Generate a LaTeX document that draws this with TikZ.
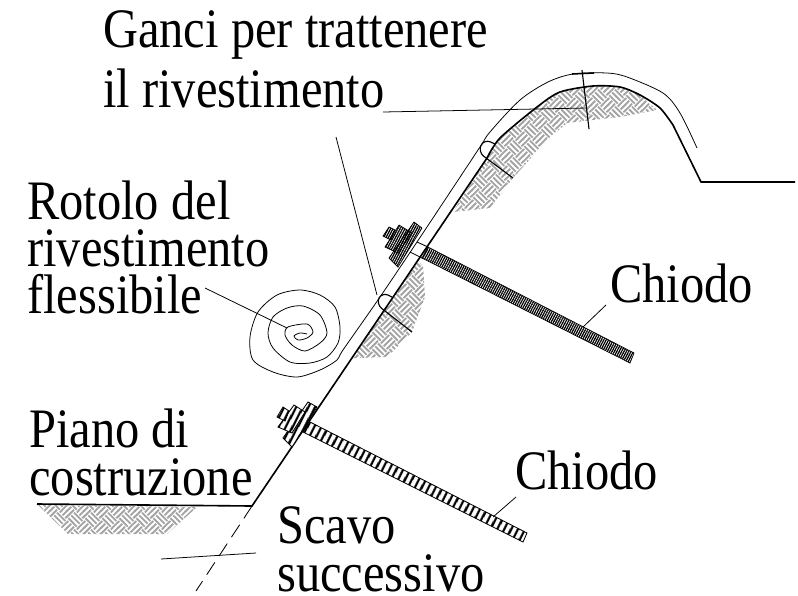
\documentclass[tikz,border=0pt]{standalone}
\usepackage{fontspec}
\setmainfont{Liberation Serif}
\newfontfamily\labelfont[FakeStretch=0.87]{Liberation Serif}
\usetikzlibrary{patterns}
\usetikzlibrary{patterns.meta}
\pgfdeclarepatternformonly{basket}{\pgfpointorigin}{\pgfqpoint{12pt}{12pt}}{\pgfqpoint{12pt}{12pt}}{
    \pgfsetlinewidth{1.3pt}
    \foreach \k in {1,3,5}{
        \foreach \cx/\cy in {0/0,12/0,0/12,12/12}{
            \pgfpathmoveto{\pgfpoint{\cx pt-6pt+\k pt}{\cy pt-\k pt}}
            \pgfpathlineto{\pgfpoint{\cx pt+\k pt}{\cy pt+6pt-\k pt}}
        }
        \pgfpathmoveto{\pgfpoint{12pt-\k pt}{6pt-\k pt}}
        \pgfpathlineto{\pgfpoint{6pt-\k pt}{12pt-\k pt}}
    }
    \pgfusepath{stroke}
}
\tikzset{
    soil/.style={pattern=basket,pattern color=black!36},
    thread dark/.style={draw=black,line width=.5pt,pattern={Lines[angle=62,distance=1.5pt,line width=.9pt]}},
    thread light/.style={draw=black,line width=.6pt,fill=white,postaction={pattern={Lines[angle=62,distance=4pt,line width=1.7pt]}}},
    ground/.style={line width=1.15pt},
    liner/.style={line width=.55pt},
    leader/.style={line width=.55pt},
    hook/.style={line width=.8pt},
    label text/.style={font=\labelfont\fontsize{39.6}{#1}\selectfont,align=left,anchor=base west,inner sep=0pt},
    label text/.default=34
}
\begin{document}
\begin{tikzpicture}[x=0.025cm,y=-0.025cm]
    \useasboundingbox (0,0) rectangle (798,595);

    % terreno
    \fill[soil] (487,158) -- (500,138) -- (537,107) -- (560,92) -- (593,86) -- (620,87) -- (640,95) -- (657,110)
    -- (620,117) -- (593,120) -- (567,123) -- (547,140) -- (513,178) -- (490,208) -- (453,212) -- cycle;
    \fill[soil] (418,262) -- (423,265) -- (425,297) -- (412,332) -- (387,357) -- (357,358) -- (352,358) -- cycle;
    \fill[soil] (38,505) -- (197,507) -- (167,534) -- (68,534) -- cycle;

    % chiodi
    \draw[thread dark] (428,247) -- (634,353) -- (630,363) -- (422,258) -- cycle;
    \draw[thread light] (310,422) -- (527,533) -- (523,542) -- (303,432) -- cycle;
    \draw[line width=.6pt] (417,242) -- (428,247) (410,252) -- (422,258);

    % profilo dello scavo
    \draw[ground] (37,504) -- (252,506) -- (487,158);
    \draw[ground,line join=round] plot[smooth,tension=.45] coordinates {(487,158) (500,138) (537,107) (560,92) (593,86) (620,87) (640,95) (660,108) (673,125)} -- (701,182) -- (795,182);
    \draw[line width=.6pt,dash pattern=on 10.5pt off 5.5pt] (252,506) -- (196,591);
    \draw[leader] (161,559) -- (256,553);

    % rivestimento e rotolo
    \draw[liner] plot[smooth,tension=.5] coordinates {(697,148) (680,113) (663,93) (627,77) (607,73) (573,74) (548,82) (520,100) (490,132) (478,150) (423,233) (380,297) (343,350) (337,360) (320,370) (297,377) (273,372) (253,360) (250,337) (258,312) (277,295) (300,290) (320,295) (335,307) (340,327) (338,343) (327,357) (310,363) (290,362) (273,348) (268,333) (273,317) (287,308) (303,306) (320,315) (327,333) (320,343) (305,351) (292,345) (285,335) (288,327) (307,324) (313,332) (307,338) (298,340) (294,336) (300,333) (307,334)};

    % ganci
    \draw[hook,rounded corners=5pt] (513,178) -- (478,152) -- (484,139) -- (495,144);
    \draw[hook,rounded corners=5pt] (412,332) -- (376,304) -- (382,292) -- (392,297);
    \draw[hook] (582,70) -- (589,129);
    \draw[line width=1.1pt] (572,74) -- (594,73);

    % piastre e bulloni
    \draw[thread dark] (414,222) -- (422,228) -- (398,267) -- (389,258) -- cycle;
    \draw[thread dark] (399,225) -- (412,233) -- (398,253) -- (385,247) -- cycle;
    \draw[thread dark] (389,227) -- (395,230) -- (391,240) -- (383,236) -- cycle;
    \draw[thread light] (308,402) -- (317,407) -- (292,447) -- (283,438) -- cycle;
    \draw[thread light] (294,405) -- (305,412) -- (292,433) -- (278,427) -- cycle;
    \draw[thread light] (283,407) -- (289,411) -- (285,421) -- (277,417) -- cycle;

    % testi
    \node[label text=42] (ganci) at (103,107) {Ganci per trattenere\\il rivestimento};
    \node[label text=33.1] (rotolo) at (27,313) {Rotolo del\\rivestimento\\flessibile};
    \node[label text] (piano) at (29,495) {Piano di\\costruzione};
    \node[label text] (scavo) at (277,591) {Scavo\\successivo};
    \node[label text] (chiodoa) at (610,302) {Chiodo};
    \node[label text] (chiodob) at (515,489) {Chiodo};

    % linee di richiamo
    \coordinate (gancia) at (587,108);
    \coordinate (gancib) at (377,295);
    \coordinate (rotoloend) at (287,328);
    \coordinate (chiodoaend) at (583,327);
    \coordinate (chiodobend) at (493,517);
    \draw[leader] (383,112) -- (gancia);
    \draw[leader] (336,137) -- (gancib);
    \draw[leader] (205,288) -- (rotoloend);
    \draw[leader] (606,305) -- (chiodoaend);
    \draw[leader] (516,497) -- (chiodobend);
\end{tikzpicture}
\end{document}
